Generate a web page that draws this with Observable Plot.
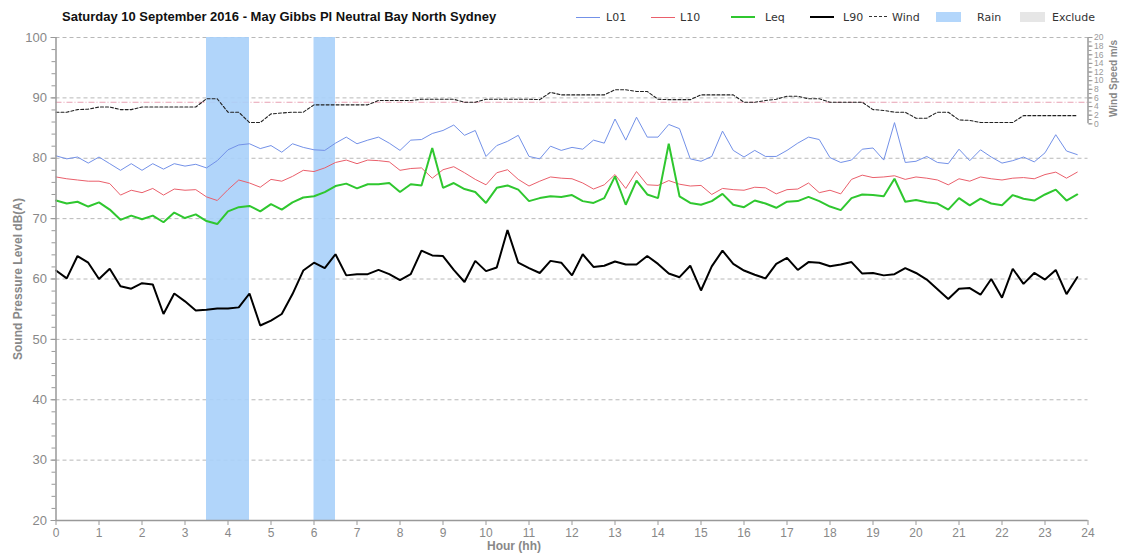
<!DOCTYPE html>
<html><head><meta charset="utf-8">
<script src="https://cdn.jsdelivr.net/npm/d3@7"></script>
<script src="https://cdn.jsdelivr.net/npm/@observablehq/plot@0.6"></script>
<style>
body{margin:0;background:#fff;}
#wrap{position:relative;width:1124px;height:556px;overflow:hidden;}
#head{position:relative;height:28px;width:1124px;}
.title{position:absolute;left:62px;top:9px;font:bold 13px "Liberation Sans",Arial,sans-serif;color:#111;white-space:nowrap;}
.lg{position:absolute;top:11px;font:11px "DejaVu Sans",sans-serif;color:#333;white-space:nowrap;}
.sw{position:absolute;}
#xlab{position:absolute;left:487px;top:539px;font:bold 12px "Liberation Sans",Arial,sans-serif;color:#888;}
</style></head>
<body>
<div id="wrap">
  <div id="head"></div>
  <div id="chart"></div>
  <div id="xlab">Hour (hh)</div>
</div>
<script>
const title = "Saturday 10 September 2016 - May Gibbs Pl Neutral Bay North Sydney";
const L01 = [80.4,79.9,80.2,79.2,80.2,79.1,78.0,79.1,78.0,79.1,78.2,79.1,78.7,79.0,78.4,79.6,81.4,82.2,82.4,81.6,82.1,81.0,82.4,81.8,81.4,81.3,82.5,83.5,82.4,83.0,83.5,82.5,81.3,83.0,83.1,
 84.1,84.6,85.5,83.8,84.6,80.3,82.1,82.8,83.8,80.3,79.9,82.0,81.3,81.8,81.5,83.0,82.5,86.5,83.0,86.8,83.5,83.5,85.6,84.9,79.9,79.5,80.3,84.5,81.3,80.2,81.3,80.3,80.3,
 81.3,82.5,83.5,83.1,80.1,79.3,79.7,81.5,81.7,79.7,85.9,79.3,79.5,80.3,79.3,79.1,81.5,79.6,81.4,80.2,79.2,79.6,80.2,79.4,80.9,83.9,81.2,80.6];
const L10 = [76.9,76.6,76.4,76.2,76.2,75.8,73.9,74.7,74.3,75.0,73.9,74.9,74.7,74.8,73.6,73.0,74.8,76.4,75.9,75.2,76.5,76.2,77.0,78.0,77.8,78.4,79.3,79.7,79.1,79.7,79.6,79.4,78.0,78.3,78.4,
 76.7,78.1,78.6,77.6,76.5,75.6,77.6,78.1,76.5,75.4,76.2,76.9,76.7,76.6,75.9,74.9,75.6,77.3,75.0,77.8,75.6,75.5,76.3,75.7,75.4,75.5,74.0,75.0,74.8,74.7,75.2,75.1,74.1,
 74.8,74.9,75.9,74.3,74.7,74.1,76.5,77.2,76.8,76.9,77.1,76.5,76.9,76.7,76.4,75.6,76.6,76.2,76.9,76.6,76.4,76.7,76.8,76.6,77.3,77.7,76.7,77.7];
const Leq = [73.0,72.5,72.8,72.0,72.7,71.5,69.8,70.5,69.9,70.5,69.4,71.0,70.1,70.7,69.6,69.1,71.2,71.9,72.1,71.2,72.4,71.5,72.7,73.5,73.7,74.4,75.4,75.8,75.0,75.7,75.7,75.9,74.4,75.7,75.5,
 81.7,75.1,75.9,74.9,74.4,72.6,75.1,75.5,74.8,72.9,73.4,73.7,73.6,73.9,72.9,72.6,73.4,77.0,72.3,76.3,74.0,73.4,82.4,73.7,72.6,72.3,72.9,74.1,72.3,71.9,73.0,72.5,71.8,
 72.8,72.9,73.6,72.9,72.0,71.4,73.4,74.0,73.9,73.7,76.6,72.8,73.1,72.7,72.5,71.5,73.4,72.2,73.3,72.5,72.2,73.9,73.3,73.0,74.0,74.8,73.0,74.0];
const L90 = [61.4,60.1,63.8,62.7,60.0,61.7,58.8,58.4,59.3,59.1,54.2,57.6,56.3,54.8,54.9,55.1,55.1,55.3,57.6,52.3,53.1,54.2,57.5,61.4,62.7,61.8,64.1,60.6,60.8,60.8,61.5,60.8,59.8,60.8,64.7,
 63.9,63.8,61.5,59.5,63.0,61.3,61.9,68.1,62.7,61.8,61.0,63.0,62.7,60.6,64.1,62.0,62.2,62.9,62.4,62.4,63.8,62.5,60.9,60.3,62.2,58.1,62.1,64.7,62.5,61.4,60.7,60.1,62.5,
 63.5,61.5,62.8,62.7,62.1,62.4,62.8,60.9,61.0,60.6,60.8,61.8,61.0,59.9,58.3,56.7,58.4,58.5,57.4,60.0,56.9,61.7,59.2,61.0,59.9,61.5,57.5,60.3];
const wind = [2.7,2.7,3.3,3.4,3.9,3.9,3.3,3.3,3.9,3.9,3.9,3.9,3.9,3.9,5.8,5.8,2.7,2.7,0.3,0.3,2.3,2.5,2.7,2.7,4.4,4.4,4.4,4.4,4.4,4.4,5.4,5.4,5.4,5.4,5.7,
 5.7,5.7,5.7,5.0,5.0,5.7,5.7,5.7,5.7,5.7,5.6,7.3,6.7,6.7,6.7,6.7,6.7,7.9,7.9,7.5,7.5,5.7,5.6,5.6,5.6,6.7,6.7,6.7,6.7,5.0,5.0,5.4,5.7,
 6.4,6.4,5.8,5.8,5.0,5.0,5.0,5.0,3.3,3.1,2.7,2.7,1.3,1.3,2.7,2.7,0.9,0.8,0.3,0.3,0.3,0.3,1.9,1.9,1.9,1.9,1.9,1.9];
const rainStart = [3.5, 6.0];
const rainEnd = [4.5, 6.5];
const excludeStart = [];
const excludeEnd = [];
const windLimit = [5];
const dbTicks = [20,30,40,50,60,70,80,90,100];
const hourTicks = d3.range(0, 25);
const windTicks = [0,2,4,6,8,10,12,14,16,18,20];
const xDomain = [0, 24];
const yDomain = [20, 100];
const windDomain = [0, 20];
const windBase = 85.7; // dB position of 0 m/s on shared scale

const times = L01.map((_, i) => i * 0.25);
const rows = times.map((t, i) => ({t, L01: L01[i], L10: L10[i], Leq: Leq[i], L90: L90[i], wind: wind[i]}));
const rain = rainStart.map((s, i) => ({start: s, end: rainEnd[i]}));
const exclude = excludeStart.map((s, i) => ({start: s, end: excludeEnd[i]}));
const toDB = w => windBase + (w - windDomain[0]) * (yDomain[1] - windBase) / (windDomain[1] - windDomain[0]);
const fromDB = d => Math.round((d - windBase) * (windDomain[1] - windDomain[0]) / (yDomain[1] - windBase));

const series = [
  {key: "L01", color: "#7391e8", width: 1},
  {key: "L10", color: "#ea5f6b", width: 1},
  {key: "Leq", color: "#2fc72f", width: 2},
  {key: "L90", color: "#000000", width: 2}
];

// header
const head = document.getElementById("head");
head.innerHTML = `<div class="title">${title}</div>`;
const legendItems = [
  {label: "L01", kind: "line", color: "#7391e8", w: 1, sx: 576, tx: 606},
  {label: "L10", kind: "line", color: "#ea5f6b", w: 1, sx: 651, tx: 680},
  {label: "Leq", kind: "line", color: "#2fc72f", w: 2, sx: 731, tx: 765},
  {label: "L90", kind: "line", color: "#000", w: 2, sx: 810, tx: 843},
  {label: "Wind", kind: "dash", color: "#333", w: 1, sx: 869, tx: 892},
  {label: "Rain", kind: "rect", color: "#b3d6fb", sx: 936, tx: 977},
  {label: "Exclude", kind: "rect", color: "#e6e6e6", sx: 1020, tx: 1052}
];
for (const it of legendItems) {
  const sw = document.createElement("div");
  sw.className = "sw";
  if (it.kind === "line") {
    Object.assign(sw.style, {left: it.sx + "px", top: (17 - it.w / 2) + "px", width: "24px", height: it.w + "px", background: it.color});
  } else if (it.kind === "dash") {
    Object.assign(sw.style, {left: it.sx + "px", top: "16px", width: "18px", height: "0px", borderTop: "1px dashed " + it.color});
  } else {
    Object.assign(sw.style, {left: it.sx + "px", top: "12px", width: "25px", height: "10px", background: it.color});
  }
  head.appendChild(sw);
  const tx = document.createElement("div");
  tx.className = "lg";
  tx.style.left = it.tx + "px";
  tx.textContent = it.label;
  head.appendChild(tx);
}

const grey = "#999";
const chart = Plot.plot({
  width: 1124, height: 528,
  marginLeft: 55.5, marginRight: 36.5, marginTop: 9, marginBottom: 36,
  x: {domain: xDomain},
  y: {domain: yDomain},
  style: {fontFamily: "'Liberation Sans', Arial, sans-serif", color: "#888", background: "transparent"},
  marks: [
    Plot.ruleY(dbTicks, {stroke: "#b8b8b8", strokeDasharray: "4,3", strokeWidth: 1}),
    Plot.ruleY(windLimit, {y: toDB, stroke: "#e8a0b2", strokeDasharray: "6,2,1,2", strokeWidth: 1}),
    Plot.rect(exclude, {x1: "start", x2: "end", fill: "#e6e6e6"}),
    Plot.rect(rain, {x1: "start", x2: "end", fill: "#a9d0fa", fillOpacity: 0.9}),
    Plot.line(rows, {x: "t", y: d => toDB(d.wind), stroke: "#222", strokeWidth: 1.1, strokeDasharray: "3,2"}),
    ...series.map(s => Plot.line(rows, {x: "t", y: s.key, stroke: s.color, strokeWidth: s.width, strokeLinejoin: "miter"})),
    // left axis
    Plot.ruleX([xDomain[0]], {stroke: grey, strokeWidth: 1.5}),
    Plot.axisY({ticks: d3.range(20, 101, 2), tickSize: 4, tickFormat: () => "", stroke: grey, label: null}),
    Plot.axisY({ticks: dbTicks, tickSize: 5, tickPadding: 4, fontSize: 13, label: null, stroke: grey, fill: "#888"}),
    Plot.text(["Sound Pressure Level dB(A)"], {frameAnchor: "left", textAnchor: "middle", lineAnchor: "middle", rotate: -90, dx: -38, fontSize: 12, fontWeight: "bold", fill: "#888"}),
    // bottom axis
    Plot.ruleY([yDomain[0]], {stroke: grey, strokeWidth: 1.5}),
    Plot.axisX({ticks: hourTicks, tickSize: 5, tickPadding: 3, fontSize: 12, label: null, stroke: grey, fill: "#888"}),
    // right wind axis
    Plot.ruleX([xDomain[1]], {y1: toDB(windDomain[0]), y2: toDB(windDomain[1]), stroke: grey, strokeWidth: 1.5}),
    Plot.axisY({anchor: "right", ticks: d3.range(0, 21, 1).map(toDB), tickSize: 3, tickFormat: () => "", stroke: grey, label: null}),
    Plot.axisY({anchor: "right", ticks: windTicks.map(toDB), tickFormat: fromDB, tickSize: 4, tickPadding: 2, fontSize: 8.5, label: null, stroke: grey, fill: "#999"}),
    Plot.text(["Wind Speed m/s"], {frameAnchor: "top-right", textAnchor: "middle", lineAnchor: "middle", rotate: -90, dx: 26, dy: 41, fontSize: 10, fontWeight: "bold", fill: "#888"})
  ]
});
document.getElementById("chart").appendChild(chart);
</script>
</body></html>
